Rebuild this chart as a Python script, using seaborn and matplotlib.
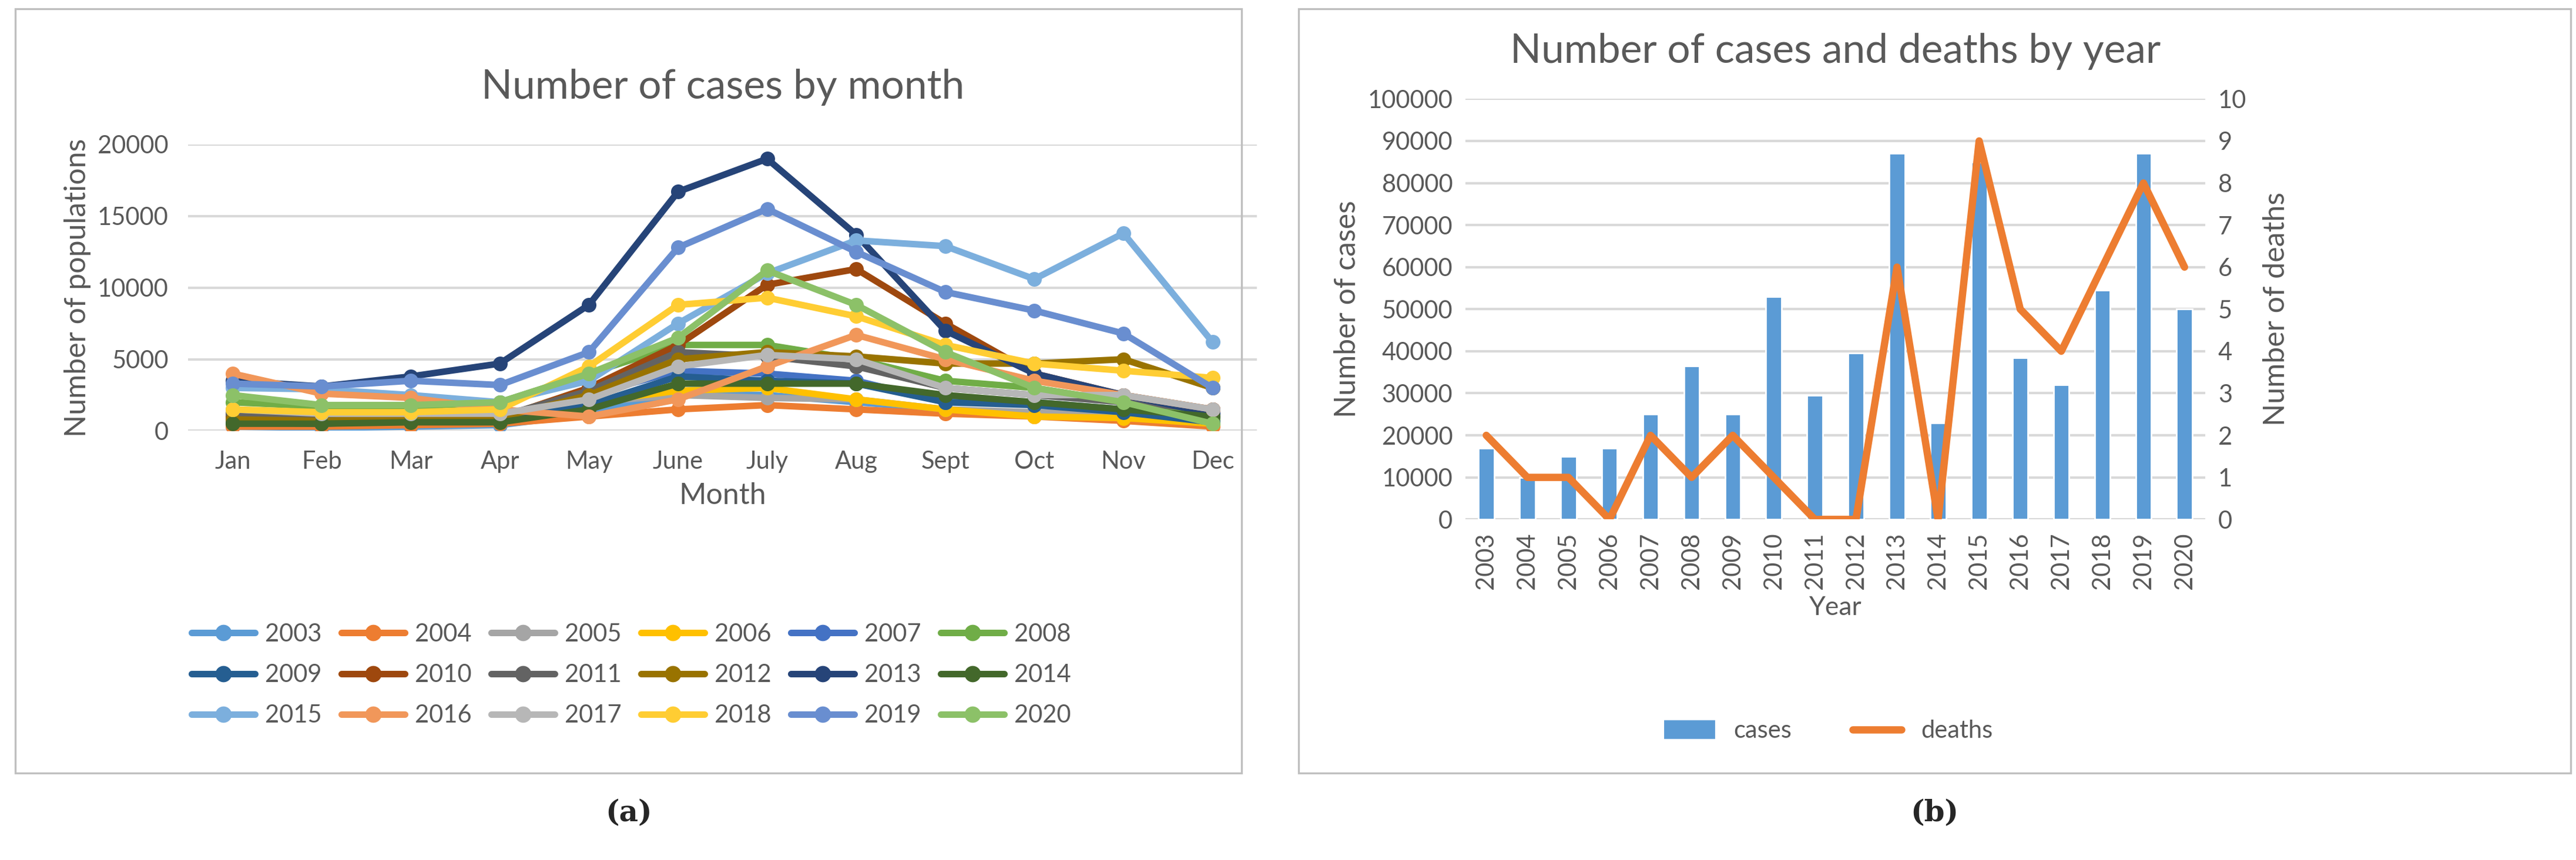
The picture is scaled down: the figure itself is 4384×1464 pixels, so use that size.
import matplotlib
matplotlib.use("Agg")
import matplotlib.pyplot as plt
import seaborn as sns
import pandas as pd
from matplotlib.patches import Rectangle
from matplotlib.lines import Line2D

months = ["Jan","Feb","Mar","Apr","May","June","July","Aug","Sept","Oct","Nov","Dec"]
years_a = [str(y) for y in range(2003, 2021)]
monthly = {
 "2003": [300,200,300,400,1200,2600,2500,2000,1500,1200,900,500],
 "2004": [300,300,400,500,1000,1500,1800,1500,1200,1000,700,300],
 "2005": [1000,900,1000,1000,2000,2500,2300,2200,1500,1300,1200,600],
 "2006": [1200,1100,1000,1200,2000,2800,3000,2200,1500,1000,900,500],
 "2007": [800,600,800,800,2500,4200,4000,3500,2000,2000,1500,800],
 "2008": [2000,1700,1700,2000,4000,6000,6000,5000,3500,3000,2000,800],
 "2009": [600,500,700,700,1800,3800,3500,3300,2000,1800,1300,600],
 "2010": [1000,800,900,900,3000,6000,10200,11300,7500,4000,2500,1500],
 "2011": [1200,1000,1000,1000,2800,5500,5200,4500,3000,2500,2000,1500],
 "2012": [800,700,900,900,2500,5000,5500,5200,4700,4700,5000,3000],
 "2013": [3500,3100,3800,4700,8800,16700,19000,13700,7000,4000,2500,1200],
 "2014": [500,500,600,600,1500,3300,3300,3300,2500,2000,1500,1000],
 "2015": [3000,2900,2500,2000,3500,7500,11000,13300,12900,10600,13800,6200],
 "2016": [4000,2600,2300,1500,1000,2200,4500,6700,5000,3500,2500,1500],
 "2017": [1500,1200,1200,1200,2200,4500,5300,5000,3000,2500,2500,1500],
 "2018": [1500,1300,1300,1500,4500,8800,9300,8000,6000,4700,4200,3700],
 "2019": [3300,3100,3500,3200,5500,12800,15500,12500,9700,8400,6800,3000],
 "2020": [2500,1800,1800,2000,4000,6500,11200,8800,5500,3000,2000,500],
}
colors_a = ["#5B9BD5","#ED7D31","#A5A5A5","#FFC000","#4472C4","#70AD47",
            "#255E91","#9E480E","#636363","#997300","#264478","#43682B",
            "#7CAFDD","#F1975A","#B7B7B7","#FFCD33","#698ED0","#8CC168"]

years_b = [str(y) for y in range(2003, 2021)]
cases = [17000,10000,15000,17000,25000,36500,25000,53000,29500,39500,87000,23000,85000,38500,32000,54500,87000,50000]
deaths = [2,1,1,0,2,1,2,1,0,0,6,0,9,5,4,6,8,6]

sns.set_theme(style="white")
plt.rcParams['font.family'] = ['Lato', 'DejaVu Sans']
TXT = "#595959"
GRID = "#D9D9D9"

fig = plt.figure(figsize=(21.92, 7.32), dpi=200)
for (x0, w) in [(0.006, 0.476), (0.504, 0.494)]:
    fig.add_artist(Rectangle((x0, 0.101), w, 0.889, transform=fig.transFigure,
                             fill=False, edgecolor="#BFBFBF", lw=1.2))
fig.text(0.244, 0.045, "(a)", ha="center", fontsize=18, fontweight="bold", family="DejaVu Serif")
fig.text(0.751, 0.045, "(b)", ha="center", fontsize=18, fontweight="bold", family="DejaVu Serif")

# Panel a
ax = fig.add_axes([0.073, 0.499, 0.415, 0.333])
df = pd.DataFrame([(y, i, v) for y in years_a for i, v in enumerate(monthly[y])],
                  columns=["year", "m", "value"])
sns.lineplot(data=df, x="m", y="value", hue="year", palette=colors_a,
             marker="o", markersize=9, markeredgewidth=0, lw=4, ax=ax, legend=False)
ax.set_xlim(-0.5, 11.5)
ax.set_ylim(0, 20000)
ax.set_yticks([0, 5000, 10000, 15000, 20000])
ax.set_xticks(range(12))
ax.set_xticklabels(months)
ax.grid(axis="y", color=GRID, lw=1.5)
ax.set_axisbelow(True)
for s in ax.spines.values():
    s.set_visible(False)
ax.tick_params(colors=TXT, labelsize=15, length=0, pad=12)
ax.set_xlabel("Month", fontsize=18, color=TXT, labelpad=6)
ax.set_ylabel("Number of populations", fontsize=18, color=TXT)
ax.set_title("Number of cases by month", fontsize=25, color=TXT, pad=28)
handles = [Line2D([], [], color=c, lw=4, marker="o", markersize=9) for c in colors_a]
# reorder so matplotlib's column-wise fill yields row-wise order
order = [r * 6 + c for c in range(6) for r in range(3)]
fig.legend([handles[i] for i in order], [years_a[i] for i in order], ncol=6,
           loc="center", bbox_to_anchor=(0.245, 0.215),
           frameon=False, fontsize=15, labelcolor=TXT, handlelength=2.6,
           columnspacing=0.8, labelspacing=0.75, handletextpad=0.4)

# Panel b
ax2 = fig.add_axes([0.569, 0.396, 0.287, 0.489])
dfb = pd.DataFrame({"year": years_b, "cases": cases, "deaths": deaths})
sns.barplot(data=dfb, x="year", y="cases", color="#5B9BD5", width=0.38,
            saturation=1, ax=ax2)
ax2.set_ylim(0, 100000)
ax2.set_yticks(range(0, 100001, 10000))
ax2.set_xlim(-0.5, 17.5)
ax2.grid(axis="y", color=GRID, lw=1.5)
ax2.set_axisbelow(True)
ax3 = ax2.twinx()
sns.lineplot(data=dfb, x="year", y="deaths", color="#ED7D31", lw=4.5, ax=ax3)
ax3.set_ylim(0, 10)
ax3.set_yticks(range(0, 11))
for a in (ax2, ax3):
    for s in a.spines.values():
        s.set_visible(False)
    a.tick_params(colors=TXT, labelsize=15, length=0, pad=8)
ax2.tick_params(axis="x", rotation=90)
ax2.set_xlabel("Year", fontsize=16, color=TXT)
ax2.set_ylabel("Number of cases", fontsize=18, color=TXT)
ax3.set_ylabel("Number of deaths", fontsize=18, color=TXT, labelpad=10)
ax2.set_title("Number of cases and deaths by year", fontsize=25, color=TXT, pad=22)
hb = [Rectangle((0, 0), 1, 1, color="#5B9BD5"), Line2D([], [], color="#ED7D31", lw=4.5)]
fig.legend(hb, ["cases", "deaths"], ncol=2, loc="center", bbox_to_anchor=(0.71, 0.15),
           frameon=False, fontsize=15, labelcolor=TXT, columnspacing=2.5)

fig.savefig("out.png", dpi=200)
